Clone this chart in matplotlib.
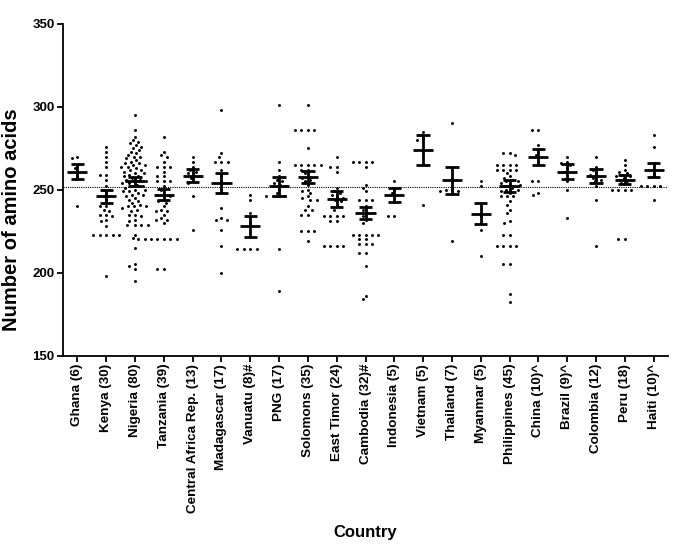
import numpy as np
import matplotlib
matplotlib.use("Agg")
import matplotlib.pyplot as plt

plt.rcParams['font.family'] = ['Liberation Sans', 'DejaVu Sans']

countries = ["Ghana (6)", "Kenya (30)", "Nigeria (80)", "Tanzania (39)", "Central Africa Rep. (13)",
             "Madagascar (17)", "Vanuatu (8)#", "PNG (17)", "Solomons (35)", "East Timor (24)",
             "Cambodia (32)#", "Indonesia (5)", "Vietnam (5)", "Thailand (7)", "Myanmar (5)",
             "Philippines (45)", "China (10)^", "Brazil (9)^", "Colombia (12)", "Peru (18)", "Haiti (10)^"]

ghana = [240, 258, 263, 265, 269, 270]
kenya = [276, 273, 270, 267, 264, 259, 259, 256, 252, 250, 248, 246, 244, 242, 240, 238, 237, 235,
         234, 232, 231, 240, 235, 228, 223, 223, 223, 223, 223, 198]
nigeria = [295, 286, 282, 280, 279, 278, 277, 276, 275, 274, 273, 272, 271, 270, 270, 269, 268, 267,
           266, 265, 265, 264, 264, 263, 262, 261, 260, 260, 259, 258, 258, 257, 256, 256, 255, 255,
           254, 254, 253, 252, 252, 251, 250, 250, 249, 249, 248, 247, 247, 246, 245, 244, 243, 242,
           241, 240, 240, 240, 239, 238, 237, 235, 235, 234, 232, 231, 229, 229, 229, 229, 223, 221,
           220, 215, 205, 204, 202, 195, 262, 266]
tanzania = [282, 273, 271, 270, 267, 264, 264, 264, 261, 258, 258, 255, 255, 255, 252, 250, 247, 247,
            246, 244, 243, 242, 240, 238, 237, 237, 235, 233, 232, 232, 230, 220, 220, 220, 220, 220,
            220, 202, 202]
car = [270, 267, 264, 262, 261, 260, 259, 258, 257, 255, 254, 246, 226]
madagascar = [298, 272, 270, 267, 267, 267, 262, 258, 255, 250, 239, 233, 232, 232, 226, 216, 200]
vanuatu = [247, 244, 236, 230, 214, 214, 214, 214]
png = [301, 267, 262, 258, 256, 255, 254, 253, 252, 250, 248, 246, 246, 246, 246, 214, 189]
solomons = [301, 286, 286, 286, 286, 275, 265, 265, 265, 265, 265, 262, 262, 260, 258, 257, 256, 255,
            253, 250, 249, 248, 246, 245, 244, 244, 240, 238, 238, 235, 235, 225, 225, 225, 219]
east_timor = [270, 264, 264, 261, 251, 249, 248, 247, 246, 245, 244, 243, 240, 238, 234, 234, 234,
              234, 231, 231, 216, 216, 216, 216]
cambodia = [267, 267, 267, 267, 264, 253, 251, 249, 244, 244, 244, 240, 238, 236, 234, 232, 230, 223,
            223, 223, 223, 223, 220, 220, 217, 217, 217, 212, 212, 204, 184, 186]
indonesia = [255, 250, 248, 234, 234]
vietnam = [285, 283, 281, 280, 241]
thailand = [290, 255, 250, 250, 249, 249, 219]
myanmar = [255, 252, 234, 226, 210]
philippines = [272, 272, 271, 265, 265, 265, 265, 262, 262, 262, 262, 260, 258, 257, 256, 255, 255,
               254, 253, 253, 252, 251, 250, 250, 249, 248, 246, 246, 246, 243, 241, 238, 236, 231,
               230, 223, 223, 216, 216, 216, 216, 205, 205, 187, 182]
china = [286, 286, 277, 273, 271, 266, 255, 255, 248, 247]
brazil = [270, 267, 266, 265, 263, 261, 255, 250, 233]
colombia = [270, 264, 262, 260, 259, 258, 257, 256, 255, 252, 244, 216]
peru = [268, 265, 262, 261, 260, 259, 258, 258, 257, 256, 255, 254, 250, 250, 250, 250, 220, 220]
haiti = [283, 276, 266, 262, 258, 252, 252, 252, 252, 244]

series = [ghana, kenya, nigeria, tanzania, car, madagascar, vanuatu, png, solomons, east_timor,
          cambodia, indonesia, vietnam, thailand, myanmar, philippines, china, brazil, colombia,
          peru, haiti]

# means and SEM
means = [261, 246, 255, 247, 258.5, 254, 228, 252, 257.6, 244.4, 236, 246.8, 274.1, 255.6, 235.5,
         252.4, 270, 261, 258.3, 256, 262]
sems = [4.6, 3.7, 2.8, 3.2, 4.0, 6.0, 6.3, 5.6, 3.5, 4.7, 3.8, 4.0, 9.2, 7.9, 6.3,
        3.7, 4.8, 4.7, 4.3, 2.7, 4.2]
overall_mean = 251.5

fig = plt.figure(figsize=(6.85, 5.53), dpi=100)
ax = fig.add_axes([63/685, 1-355.5/553, 605/685, 331.5/553])
ax.set_xlim(-0.5, 20.5)
ax.set_ylim(150, 350)

# pixel scales of the axes, used to lay out the dot swarm
XPX = 605 / 21.0
YPX = 331.5 / 200.0
DX, DY = 6.4, 3.6  # dot spacing (ellipse), px


def swarm_offsets(vals):
    vals = np.asarray(vals, dtype=float)
    order = np.argsort(-vals, kind='stable')
    px_y = vals * YPX
    placed_x, placed_y = [], []
    offs = np.zeros_like(vals)
    for j in order:
        y = px_y[j]
        cands = [0.0]
        for px, py in zip(placed_x, placed_y):
            dy = abs(py - y)
            if dy < DY:
                dx = DX * np.sqrt(1 - (dy / DY) ** 2)
                cands += [px + dx, px - dx]
        cands = sorted(cands, key=lambda c: (abs(c), c))
        for c in cands:
            ok = True
            for px, py in zip(placed_x, placed_y):
                if ((px - c) / DX) ** 2 + ((py - y) / DY) ** 2 < 1 - 1e-6:
                    ok = False
                    break
            if ok:
                placed_x.append(c)
                placed_y.append(y)
                offs[j] = c / XPX
                break
    return offs


for i, vals in enumerate(series):
    xs = swarm_offsets(vals)
    ax.scatter(i + xs, vals, s=4.5, color='black', linewidths=0, zorder=3)

x = np.arange(len(countries))
for i in range(len(countries)):
    m, e = means[i], sems[i]
    kw = dict(color='black', lw=2.0, solid_capstyle='butt', zorder=4)
    ax.plot([i - 0.35, i + 0.35], [m, m], **kw)
    ax.plot([i, i], [m - e, m + e], **kw)
    ax.plot([i - 0.23, i + 0.23], [m + e, m + e], **kw)
    ax.plot([i - 0.23, i + 0.23], [m - e, m - e], **kw)

ax.axhline(overall_mean, color='black', lw=0.8, ls=(0, (1, 1)), zorder=2)

ax.set_yticks([150, 200, 250, 300, 350])
ax.set_xticks(x)
ax.set_xticklabels(countries, rotation=90, fontsize=9.7, fontweight='bold')
for lab in ax.get_yticklabels():
    lab.set_fontsize(9.5)
    lab.set_fontweight('bold')
ax.spines['top'].set_visible(False)
ax.spines['right'].set_visible(False)
ax.spines['left'].set_linewidth(1.3)
ax.spines['bottom'].set_linewidth(1.3)
ax.tick_params(axis='both', direction='out', length=4, width=1.3, pad=2)
ax.set_ylabel("Number of amino acids", fontsize=14.5, fontweight='bold')
ax.yaxis.set_label_coords(-0.069, 0.41)
fig.text(365/685, 1-533/553, "Country", fontsize=12, fontweight='bold', ha='center', va='center')

fig.savefig("out.png", dpi=100)
